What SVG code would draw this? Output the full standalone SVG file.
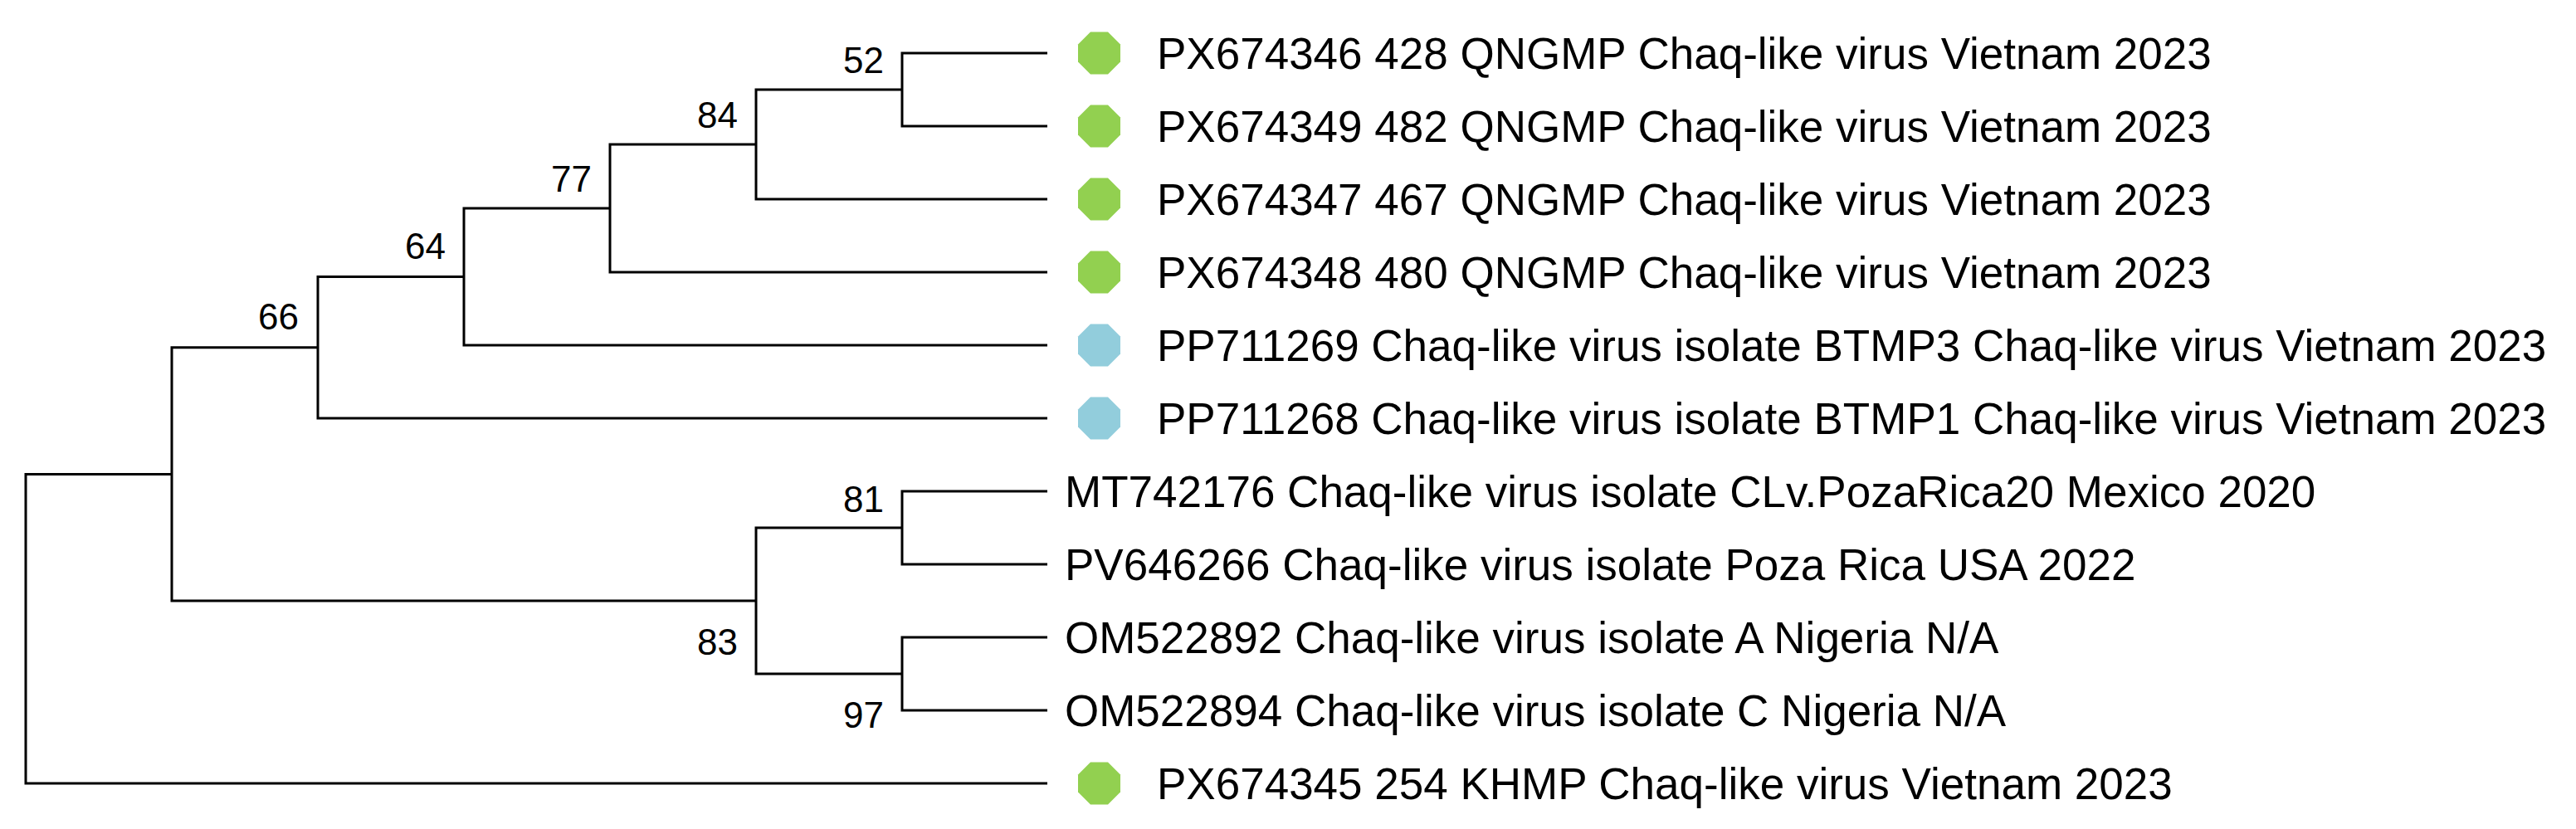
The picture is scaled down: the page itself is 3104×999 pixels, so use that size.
<svg xmlns="http://www.w3.org/2000/svg" width="3104" height="999" viewBox="0 0 3104 999">
<style>
.br{fill:none;stroke:#000;stroke-width:3;stroke-linejoin:miter}
.lbl{font-family:"Liberation Sans",Arial,sans-serif;font-size:53px;fill:#000}
.bs{font-family:"Liberation Sans",Arial,sans-serif;font-size:44px;fill:#000;text-anchor:end}
.g{fill:#92D050}
.b{fill:#92CDDC}
</style>
<defs>
<polygon id="oct" points="-10.5,-25.5 10.5,-25.5 25.5,-10.5 25.5,10.5 10.5,25.5 -10.5,25.5 -25.5,10.5 -25.5,-10.5"/>
</defs>
<rect width="3104" height="999" fill="#fff"/>
<g id="connectors">
<path class="br" d="M207,571.4 H31 V944 H1262"/>
<path class="br" d="M383,418.75 H207 V724 H911"/>
<path class="br" d="M559,333.5 H383 V504 H1262"/>
<path class="br" d="M735,251 H559 V416 H1262"/>
<path class="br" d="M911,174 H735 V328 H1262"/>
<path class="br" d="M1087,108 H911 V240 H1262"/>
<path class="br" d="M1262,64 H1087 V152 H1262"/>
<path class="br" d="M1087,636 H911 V812 H1087"/>
<path class="br" d="M1262,592 H1087 V680 H1262"/>
<path class="br" d="M1262,768 H1087 V856 H1262"/>
</g>
<g id="leaf-PX674346"><use href="#oct" class="g" x="1324.5" y="64"/><text class="lbl" x="1394" y="83">PX674346 428 QNGMP Chaq-like virus Vietnam 2023</text></g>
<g id="leaf-PX674349"><use href="#oct" class="g" x="1324.5" y="152"/><text class="lbl" x="1394" y="171">PX674349 482 QNGMP Chaq-like virus Vietnam 2023</text></g>
<g id="leaf-PX674347"><use href="#oct" class="g" x="1324.5" y="240"/><text class="lbl" x="1394" y="259">PX674347 467 QNGMP Chaq-like virus Vietnam 2023</text></g>
<g id="leaf-PX674348"><use href="#oct" class="g" x="1324.5" y="328"/><text class="lbl" x="1394" y="347">PX674348 480 QNGMP Chaq-like virus Vietnam 2023</text></g>
<g id="leaf-PP711269"><use href="#oct" class="b" x="1324.5" y="416"/><text class="lbl" x="1394" y="435">PP711269 Chaq-like virus isolate BTMP3 Chaq-like virus Vietnam 2023</text></g>
<g id="leaf-PP711268"><use href="#oct" class="b" x="1324.5" y="504"/><text class="lbl" x="1394" y="523">PP711268 Chaq-like virus isolate BTMP1 Chaq-like virus Vietnam 2023</text></g>
<g id="leaf-MT742176"><text class="lbl" x="1283" y="611">MT742176 Chaq-like virus isolate CLv.PozaRica20 Mexico 2020</text></g>
<g id="leaf-PV646266"><text class="lbl" x="1283" y="699">PV646266 Chaq-like virus isolate Poza Rica USA 2022</text></g>
<g id="leaf-OM522892"><text class="lbl" x="1283" y="787">OM522892 Chaq-like virus isolate A Nigeria N/A</text></g>
<g id="leaf-OM522894"><text class="lbl" x="1283" y="875">OM522894 Chaq-like virus isolate C Nigeria N/A</text></g>
<g id="leaf-PX674345"><use href="#oct" class="g" x="1324.5" y="944"/><text class="lbl" x="1394" y="963">PX674345 254 KHMP Chaq-like virus Vietnam 2023</text></g>
<g id="node-52"><text class="bs" x="1065" y="88">52</text></g>
<g id="node-84"><text class="bs" x="889" y="154">84</text></g>
<g id="node-77"><text class="bs" x="713" y="231">77</text></g>
<g id="node-64"><text class="bs" x="537" y="312">64</text></g>
<g id="node-66"><text class="bs" x="360" y="397">66</text></g>
<g id="node-81"><text class="bs" x="1065" y="617">81</text></g>
<g id="node-83"><text class="bs" x="889" y="789">83</text></g>
<g id="node-97"><text class="bs" x="1065" y="877">97</text></g>
</svg>
